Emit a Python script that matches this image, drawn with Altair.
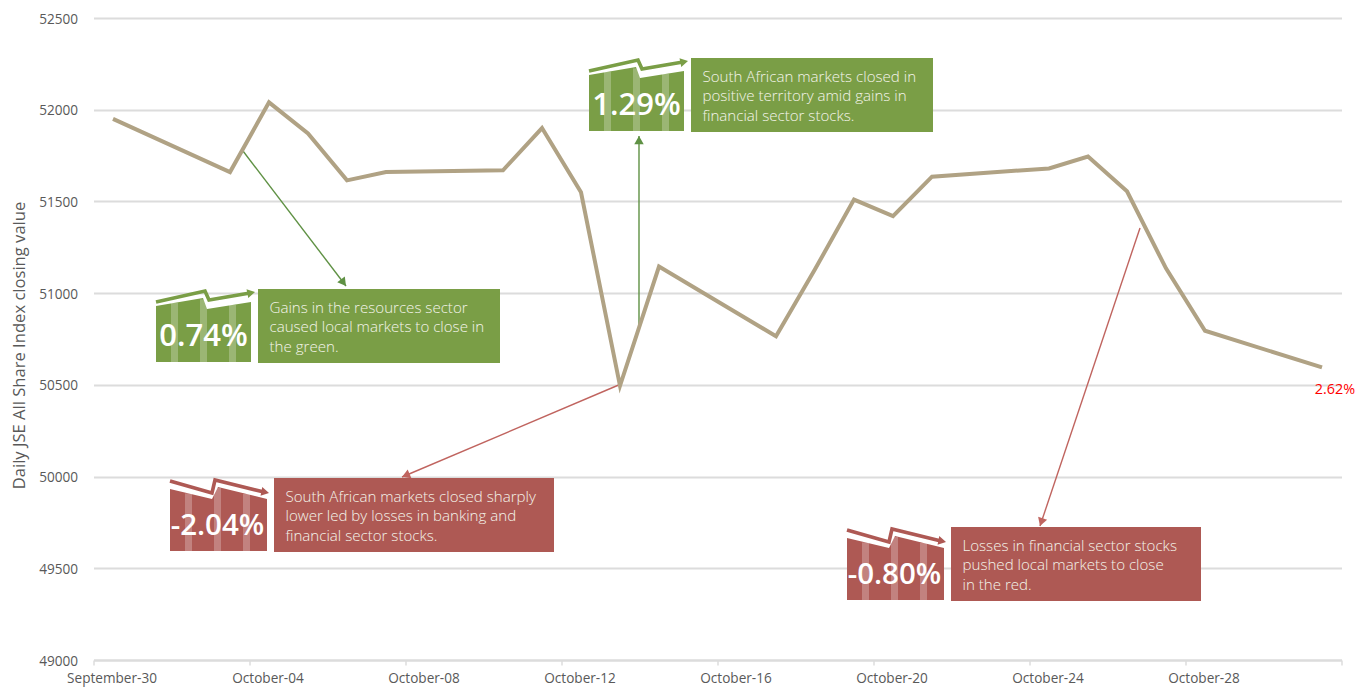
import math

import altair as alt
import numpy as np
import pandas as pd

# JSE All Share Index closes for the trading days of the month (day 0 = 30 September)
trading_days = [0, 3, 4, 5, 6, 7, 10, 11, 12, 13, 14, 17, 18, 19, 20, 21, 24, 25, 26, 27, 28, 31]
closes = [51950, 51660, 52040, 51870, 51615, 51660, 51670, 51900, 51550, 50495, 51145,
          50765, 51130, 51510, 51420, 51635, 51680, 51745, 51555, 51135, 50795, 50595]

tick_days = [-0.5, 3.5, 7.5, 11.5, 15.5, 19.5, 23.5, 27.5, 31.5]
tick_labels = ["September-30", "October-04", "October-08", "October-12",
               "October-16", "October-20", "October-24", "October-28"]
y_ticks = [49000, 49500, 50000, 50500, 51000, 51500, 52000, 52500]

PLOT_W, PLOT_H = 1248, 642
LEFT, TOP = 93.5, 18
GREEN, RED = "#7a9e46", "#ae5954"
GREEN_ARROW, RED_ARROW = "#5f9144", "#c0645f"
LINE = "#b0a284"
GREY = "#595959"
GRID = "#dcdcdc"
FONT = "Open Sans"


def day_of(px):
    return (px - LEFT) / PLOT_W * 32 - 0.5


def value_of(py):
    return 49000 + (TOP + PLOT_H - py) / PLOT_H * 3500


x_scale = alt.Scale(domain=[-0.5, 31.5], nice=False, zero=False)
y_scale = alt.Scale(domain=[49000, 52500], nice=False, zero=False)

labels_js = "[" + ",".join(f"'{t}'" for t in tick_labels) + "]"
x_axis = alt.Axis(
    values=tick_days,
    labelExpr=f"{labels_js}[(datum.value + 0.5) / 4] || ''",
    labelOffset=18,
    labelOverlap=False,
    labelBound=False,
    labelFlush=False,
    labelFont=FONT,
    labelFontSize=13.6,
    labelColor=GREY,
    labelPadding=6,
    tickColor=GRID,
    tickSize=5,
    tickWidth=1.5,
    domainColor=GRID,
    domainWidth=2,
    grid=False,
)
y_axis = alt.Axis(
    values=y_ticks,
    format="d",
    labelFont=FONT,
    labelFontSize=13.6,
    labelColor=GREY,
    labelPadding=16,
    labelOffset=1,
    ticks=False,
    domain=False,
    grid=True,
    gridColor=GRID,
    gridWidth=2,
    titleFont=FONT,
    titleFontSize=16.6,
    titleFontWeight="normal",
    titleColor=GREY,
    titleX=-66,
    titleY=327,
)
X = alt.X("x:Q", scale=x_scale, axis=x_axis, title=None)
Y = alt.Y("y:Q", scale=y_scale, axis=y_axis, title="Daily JSE All Share Index closing value")

# Callouts: percentage move, colour, left edge and bottom of the icon,
# then the text panel's box and its lines
callouts = [
    {"pct": "0.74%", "up": True, "ix": 156, "iy": 362, "box": (258, 289, 500, 363),
     "lines": ["Gains in the resources sector", "caused local markets to close in", "the green."]},
    {"pct": "1.29%", "up": True, "ix": 589, "iy": 131, "box": (691, 58, 933, 132),
     "lines": ["South African markets closed in", "positive territory amid gains in", "financial sector stocks."]},
    {"pct": "-2.04%", "up": False, "ix": 170, "iy": 551, "box": (274, 478, 554, 552),
     "lines": ["South African markets closed sharply", "lower led by losses in banking and", "financial sector stocks."]},
    {"pct": "-0.80%", "up": False, "ix": 847, "iy": 600, "box": (951, 527, 1201, 601),
     "lines": ["Losses in financial sector stocks", "pushed local markets to close", "in the red."]},
]

# Icon outlines relative to the icon's bottom-left corner
ICON_UP = {"body": [(0, -56), (47, -64), (51, -53), (95, -60)],
           "trend": [(0, -60), (49, -71), (53, -62), (94, -69)], "tip": (99, -70)}
ICON_DOWN = {"body": [(0, -62), (42, -52), (48, -64), (97, -52)],
             "trend": [(0, -70), (42, -58), (45, -71), (94, -59)], "tip": (99, -58)}
STRIPES = [(15, 22), (44, 51), (73, 80)]

# Leader arrows: start and tip
leaders = [
    ((243, 151), (346, 286), GREEN_ARROW),
    ((639, 325), (639, 136), GREEN_ARROW),
    ((621, 384), (402, 477), RED_ARROW),
    ((1140, 228), (1040, 526), RED_ARROW),
]


def head(start, tip, colour, size):
    dx, dy = tip[0] - start[0], tip[1] - start[1]
    length = math.hypot(dx, dy)
    back = 0.433 * math.sqrt(size)
    return {
        "x": day_of(tip[0] - dx / length * back),
        "y": value_of(tip[1] - dy / length * back),
        "angle": math.degrees(math.atan2(dx, -dy)) % 360,
        "c": colour,
        "s": size,
    }


panels, bodies, stripes, trends, heads, leader_rows, big, copy = [], [], [], [], [], [], [], []
for n, c in enumerate(callouts):
    colour = GREEN if c["up"] else RED
    icon = ICON_UP if c["up"] else ICON_DOWN
    ix, iy = c["ix"], c["iy"]
    x0, y0, x1, y1 = c["box"]
    panels.append({"x": day_of(x0), "x2": day_of(x1), "y": value_of(y0), "y2": value_of(y1), "c": colour})
    for dx, dy in icon["body"]:
        bodies.append({"id": n, "x": day_of(ix + dx), "y": value_of(iy + dy), "y2": value_of(iy), "c": colour})
    xs = [p[0] for p in icon["body"]]
    ys = [p[1] for p in icon["body"]]
    for a, b in STRIPES:
        top = float(np.interp((a + b) / 2, xs, ys))
        stripes.append({"x": day_of(ix + a), "x2": day_of(ix + b), "y": value_of(iy + top), "y2": value_of(iy)})
    for k, (dx, dy) in enumerate(icon["trend"]):
        trends.append({"id": n, "o": k, "x": day_of(ix + dx), "y": value_of(iy + dy), "c": colour})
    last = icon["trend"][-1]
    heads.append(head((ix + last[0], iy + last[1]), (ix + icon["tip"][0], iy + icon["tip"][1]), colour, 80))
    big.append({"x": day_of(ix + 47.5), "y": value_of(iy - 25), "t": c["pct"], "fs": 31 if c["up"] else 29.5})
    for k, line in enumerate(c["lines"]):
        copy.append({"x": day_of(x0 + 11.5), "y": value_of(y0 + 18.7 + k * 19.5), "t": line})

for n, (start, tip, colour) in enumerate(leaders):
    leader_rows.append({"id": n, "o": 0, "x": day_of(start[0]), "y": value_of(start[1]), "c": colour})
    leader_rows.append({"id": n, "o": 1, "x": day_of(tip[0]), "y": value_of(tip[1]), "c": colour})
    heads.append(head(start, tip, colour, 90))

series = pd.DataFrame({"x": trading_days, "y": closes})

leader_lines = (
    alt.Chart(pd.DataFrame(leader_rows))
    .mark_line(strokeWidth=1.4)
    .encode(x=X, y=Y, order="o:Q", detail="id:N", color=alt.Color("c:N", scale=None))
)
close_line = (
    alt.Chart(series)
    .mark_line(color=LINE, strokeWidth=4, strokeJoin="miter")
    .encode(x=X, y=Y)
)
last_move = (
    alt.Chart(pd.DataFrame([{"x": day_of(1335), "y": value_of(390), "t": "2.62%"}]))
    .mark_text(color="#ff0000", font=FONT, fontSize=14.4, align="center", baseline="middle")
    .encode(x=X, y=Y, text="t:N")
)
panel_rects = (
    alt.Chart(pd.DataFrame(panels))
    .mark_rect()
    .encode(x=X, x2="x2:Q", y=Y, y2="y2:Q", color=alt.Color("c:N", scale=None))
)
icon_bodies = (
    alt.Chart(pd.DataFrame(bodies))
    .mark_area(interpolate="linear")
    .encode(x=X, y=Y, y2="y2:Q", detail="id:N", color=alt.Color("c:N", scale=None))
)
icon_stripes = (
    alt.Chart(pd.DataFrame(stripes))
    .mark_rect(color="#ffffff", opacity=0.25)
    .encode(x=X, x2="x2:Q", y=Y, y2="y2:Q")
)
icon_trends = (
    alt.Chart(pd.DataFrame(trends))
    .mark_line(strokeWidth=3.6, strokeJoin="miter")
    .encode(x=X, y=Y, order="o:Q", detail="id:N", color=alt.Color("c:N", scale=None))
)
arrow_heads = (
    alt.Chart(pd.DataFrame(heads))
    .mark_point(shape="triangle-up", filled=True, opacity=1)
    .encode(
        x=X,
        y=Y,
        angle=alt.Angle("angle:Q", scale=None),
        size=alt.Size("s:Q", scale=None),
        color=alt.Color("c:N", scale=None),
    )
)
big_text = (
    alt.Chart(pd.DataFrame(big))
    .mark_text(color="#ffffff", font=FONT, fontWeight=600, align="center", baseline="middle")
    .encode(x=X, y=Y, text="t:N", size=alt.Size("fs:Q", scale=None))
)
panel_text = (
    alt.Chart(pd.DataFrame(copy))
    .mark_text(color="#f4f4ea", font=FONT, fontSize=15.1, fontWeight=300, align="left", baseline="middle")
    .encode(x=X, y=Y, text="t:N")
)

chart = (
    alt.layer(
        leader_lines, close_line, last_move, panel_rects, icon_bodies,
        icon_stripes, icon_trends, arrow_heads, big_text, panel_text,
    )
    .properties(
        width=PLOT_W,
        height=PLOT_H,
        autosize=alt.AutoSizeParams(type="none"),
        padding={"left": LEFT, "top": TOP, "right": 15.5, "bottom": 28},
        background="#ffffff",
    )
    .configure_view(stroke=None)
)

chart.save("out.html", embed_options={"renderer": "svg", "actions": False})
